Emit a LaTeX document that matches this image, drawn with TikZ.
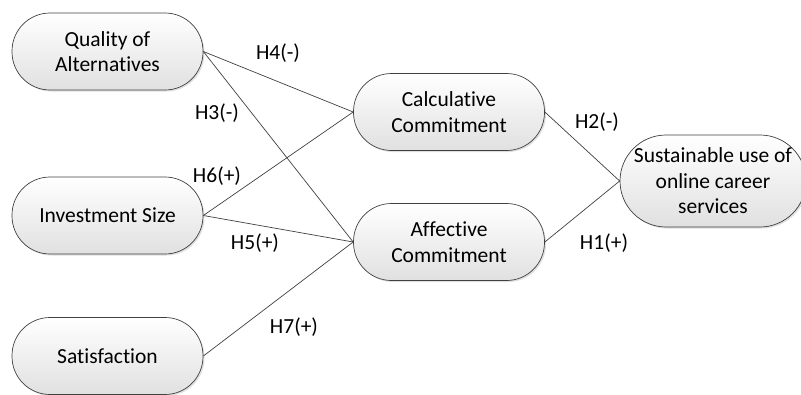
\documentclass[tikz,border=0pt]{standalone}
\usepackage{fontspec}
\setmainfont{Carlito}[Ligatures=NoCommon]
\usetikzlibrary{shadows}
\begin{document}
\begin{tikzpicture}[x=1pt,y=-1pt,
  stad/.style={draw=black!75, line width=0.7pt, top color=white, bottom color=black!12,
    rounded corners=38pt, minimum width=191pt, minimum height=77pt, align=center,
    font=\fontsize{21.5}{25.5}\selectfont, inner sep=0pt,
    drop shadow={shadow xshift=1.5pt, shadow yshift=-1.5pt, fill=black!25, opacity=0.5}},
  link/.style={draw=black!75, line width=0.7pt},
  lab/.style={font=\fontsize{21.5}{25.5}\selectfont, inner sep=0pt}]
\useasboundingbox (0,0) rectangle (801,394);
\begin{scope}
\clip (0,0) rectangle (801,394);
\node[stad] (q) at (107.5,51.5) {Quality of\\Alternatives};
\node[stad] (i) at (107.5,215.5) {Investment Size};
\node[stad] (s) at (107.5,356) {Satisfaction};
\node[stad] (c) at (449,112) {Calculative\\Commitment};
\node[stad] (a) at (449,242) {Affective\\Commitment};
\node[stad, minimum width=186pt, minimum height=92pt, rounded corners=46pt] (u) at (713,181) {Sustainable use of\\online career\\services};
\draw[link] (q.east) -- (c.west);
\draw[link] (q.east) -- (a.west);
\draw[link] (i.east) -- (c.west);
\draw[link] (i.east) -- (a.west);
\draw[link] (s.east) -- (a.west);
\draw[link] (c.east) -- (u.west);
\draw[link] (a.east) -- (u.west);
\end{scope}
\node[lab] (h4) at (278,53) {H4(-)};
\node[lab] (h3) at (217,113) {H3(-)};
\node[lab] (h6) at (217,176) {H6(+)};
\node[lab] (h5) at (255,243) {H5(+)};
\node[lab] (h7) at (294,327) {H7(+)};
\node[lab] (h2) at (597,122) {H2(-)};
\node[lab] (h1) at (604,243) {H1(+)};
\end{tikzpicture}
\end{document}
